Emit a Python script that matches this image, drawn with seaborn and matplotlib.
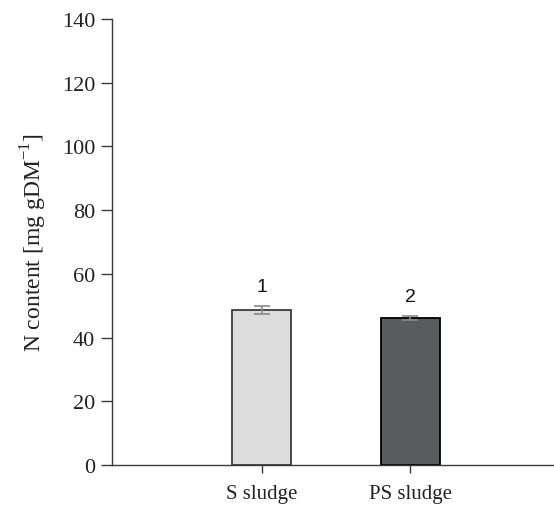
import matplotlib
matplotlib.use("Agg")
import matplotlib.pyplot as plt
import seaborn as sns
import pandas as pd

categories = ["S sludge", "PS sludge"]
values = [48.6, 46.1]
errors = [1.3, 0.7]
group_labels = ["1", "2"]
bar_colors = ["#dcdcdd", "#5a5b5d"]
edge_colors = ["#3a3a3a", "#000000"]
yticks = [0, 20, 40, 60, 80, 100, 120, 140]

sns.set_style("white")
plt.rcParams['font.family'] = ['Liberation Serif', 'DejaVu Serif']
plt.rcParams['mathtext.fontset'] = 'custom'
plt.rcParams['mathtext.rm'] = 'Liberation Serif'

df = pd.DataFrame({"cat": categories, "val": values})

fig = plt.figure(figsize=(5.54, 5.06), dpi=100)
ax = fig.add_axes([0.2022, 0.0791, 0.7978, 0.8814])

sns.barplot(data=df, x="cat", y="val", hue="cat", palette=bar_colors,
            width=0.40, legend=False, ax=ax, errorbar=None)
for patch, ec in zip(ax.patches, edge_colors):
    patch.set_edgecolor(ec)
    patch.set_linewidth(1.3)

ax.errorbar(range(len(values)), values, yerr=errors, fmt="none",
            ecolor="#8a8a8a", elinewidth=1.2, capsize=6, capthick=1.2, zorder=3)

for i, (v, e, lab) in enumerate(zip(values, errors, group_labels)):
    ax.text(i, v + e + 3.5, lab, ha="center", va="bottom", fontsize=14,
            family=['Liberation Sans', 'DejaVu Sans'], color="#111111")

ax.set_xlim(-1.007, 1.967)
ax.set_ylim(0, 140)
ax.set_yticks(yticks)
ax.set_xlabel("")
ax.set_ylabel("N content [mg gDM$^{\\mathregular{-1}}$]", fontsize=17, labelpad=9,
              color="#222222")

for s in ["top", "right"]:
    ax.spines[s].set_visible(False)
for s in ["left", "bottom"]:
    ax.spines[s].set_color("#3a3a3a")
    ax.spines[s].set_linewidth(1.0)

ax.tick_params(axis="y", direction="out", length=8, width=1, color="#3a3a3a",
               labelsize=16, pad=4, left=True, labelcolor="#222222")
ax.tick_params(axis="x", direction="out", length=6, width=1, color="#3a3a3a",
               labelsize=15, pad=8, bottom=True, labelcolor="#222222")

fig.savefig("out.png", dpi=100)
